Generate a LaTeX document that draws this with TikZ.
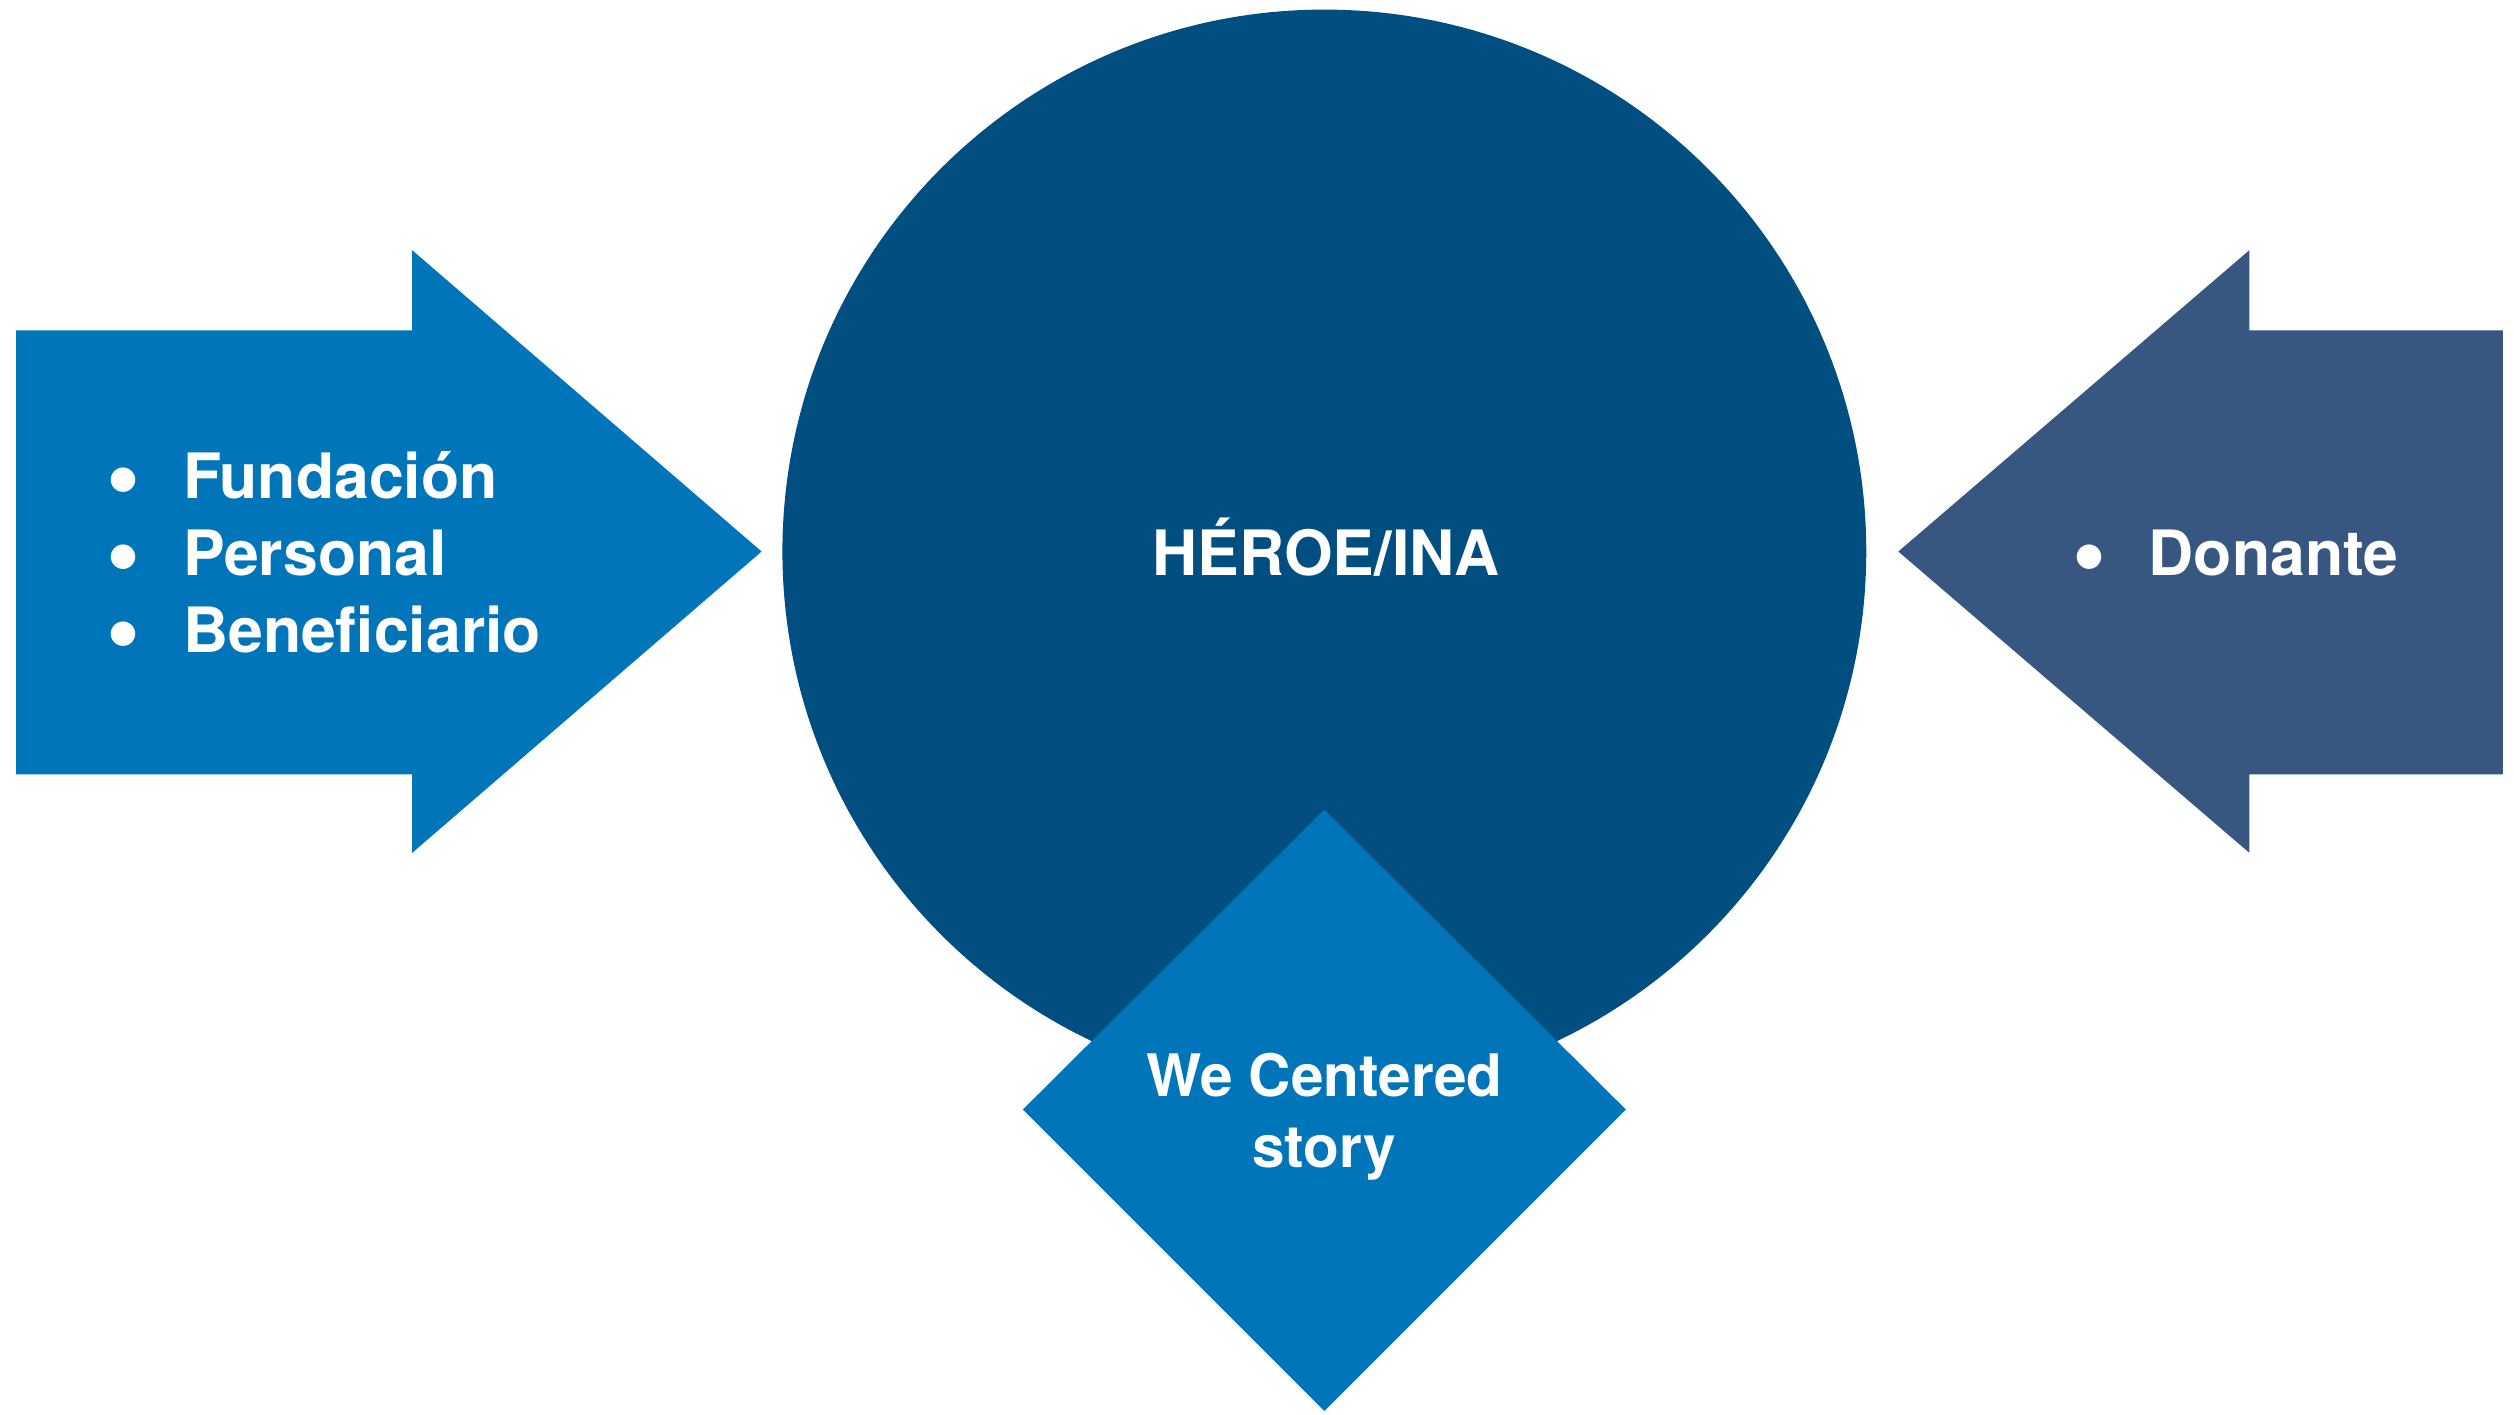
\documentclass[tikz,border=0pt]{standalone}
\usepackage{fontspec}
\setmainfont{TeX Gyre Heros}
\newfontfamily\symfont{DejaVu Sans}
\definecolor{arrowblue}{RGB}{0,117,186}
\definecolor{circleblue}{RGB}{0,79,128}
\definecolor{donorblue}{RGB}{55,87,129}
\newcommand{\mybul}{\makebox[0pt]{\raisebox{6pt}{\symfont\fontsize{20}{20}\selectfont ●}}\hspace{37pt}}
\begin{document}
\begin{tikzpicture}[x=1pt,y=1pt,
  lbl/.style={text=white,font=\fontsize{39}{47}\selectfont\bfseries,inner sep=0pt},
  dlbl/.style={text=white,font=\fontsize{36.5}{44}\selectfont\bfseries,inner sep=0pt,align=center}]
\useasboundingbox (0,0) rectangle (1568,882);
% left arrow
\fill[arrowblue] (10,676) -- (257,676) -- (257,726) -- (475,538) -- (257,350) -- (257,399) -- (10,399) -- cycle;
% right arrow
\fill[donorblue] (1561,676) -- (1403,676) -- (1403,726) -- (1184,538) -- (1403,350) -- (1403,399) -- (1561,399) -- cycle;
% circle
\fill[circleblue] (826,538) circle[radius=338];
% diamond
\fill[arrowblue] (826,377) -- (1014,190) -- (826,2) -- (638,190) -- cycle;
% texts
\node[lbl,anchor=base] (hero) at (827,523) {HÉROE/INA};
\node[lbl,anchor=base west] (t1) at (77,571) {\mybul Fundación};
\node[lbl,anchor=base west] (t2) at (77,523) {\mybul Personal};
\node[lbl,anchor=base west] (t3) at (77,475) {\mybul Beneficiario};
\node[lbl,anchor=base west] (t4) at (1303,523) {\mybul Donante};
\node[dlbl,anchor=base] (w1) at (826,198) {We Centered};
\node[dlbl,anchor=base] (w2) at (826,154) {story};
\end{tikzpicture}
\end{document}
